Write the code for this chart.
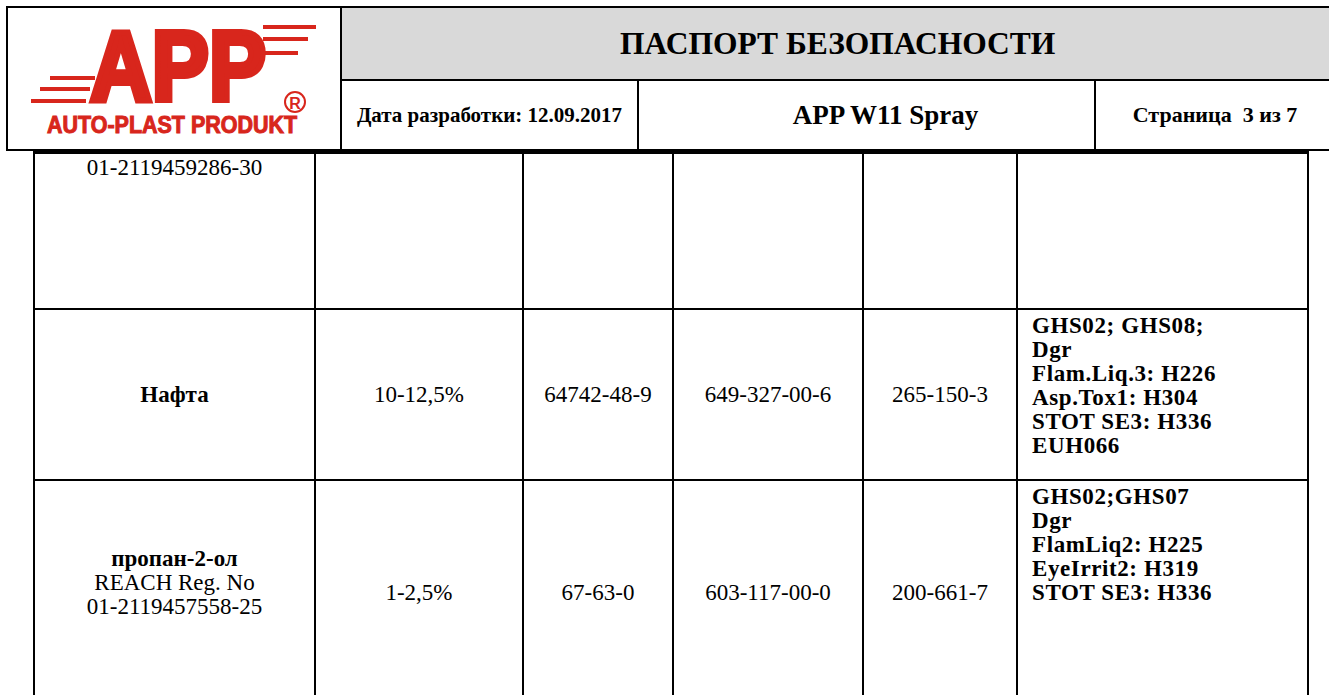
<!DOCTYPE html>
<html lang="ru">
<head>
<meta charset="utf-8">
<script src="https://cdn.jsdelivr.net/npm/chart.js@4.4.1/dist/chart.umd.min.js"></script>
<style>
  html, body { margin:0; padding:0; background:#fff; width:1329px; height:695px; overflow:hidden; }
  body { position:relative; font-family:"Liberation Serif","Times New Roman",serif; color:#000; }
  #hdr { position:absolute; left:6px; top:6px; width:1400px; height:145px; border:2px solid #000; border-right:none; box-sizing:border-box; }
  .hc { position:absolute; box-sizing:border-box; display:flex; align-items:center; justify-content:center; font-weight:bold; white-space:nowrap; }
  #logoCell { left:0; top:0; width:334px; height:141px; border-right:2px solid #000; }
  #titleCell { left:334px; top:0; right:0; height:73px; background:#d9d9d9; border-bottom:2px solid #000; font-size:31.5px; justify-content:flex-start; padding-left:278px; }
  #dateCell { left:334px; top:73px; width:297px; height:68px; border-right:2px solid #000; font-size:21px; }
  #prodCell { left:631px; top:73px; width:457px; height:68px; border-right:2px solid #000; font-size:27px; padding-left:38px; }
  #pageCell { left:1088px; top:73px; width:228px; height:68px; font-size:22px; padding-left:10px; }
  #grid { position:absolute; left:33px; top:150px; background:#000; padding:4px 2px 0 2px; display:grid; gap:2px;
          grid-template-columns:279px 206px 148px 188px 152px 289px; grid-template-rows:154px 169px 224px; }
  .c { background:#fff; font-size:23px; line-height:24px; display:flex; flex-direction:column; align-items:center; justify-content:center; text-align:center; white-space:nowrap; box-sizing:border-box; }
  .c.top { justify-content:flex-start; padding-top:2px; }
  .c.cls { align-items:flex-start; justify-content:flex-start; padding:4px 0 0 14px; font-weight:bold; text-align:left; font-size:23px; letter-spacing:0.6px; }
  .c.shift { padding-bottom:20px; }
</style>
</head>
<body>
<div id="hdr">
  <div class="hc" id="logoCell">
    <svg width="334" height="141" viewBox="7 7 334 141" xmlns="http://www.w3.org/2000/svg" style="position:absolute;left:0;top:0">
      <g fill="#d8261c">
        <rect x="49" y="75" width="45" height="4"/>
        <rect x="39" y="86" width="50" height="4"/>
        <rect x="30" y="98" width="55" height="4"/>
        <rect x="262" y="24" width="53" height="4"/>
        <rect x="262" y="36" width="45" height="4"/>
        <rect x="262" y="50" width="35" height="4"/>
        <text x="89" y="99" font-family="Liberation Sans, Arial, sans-serif" font-weight="bold" font-size="98" textLength="176" lengthAdjust="spacingAndGlyphs" stroke="#d8261c" stroke-width="6" stroke-linejoin="miter">APP</text>
        <text x="46" y="132" font-family="Liberation Sans, Arial, sans-serif" font-weight="bold" font-size="23" textLength="250" lengthAdjust="spacingAndGlyphs" stroke="#d8261c" stroke-width="1">AUTO-PLAST PRODUKT</text>
        <text x="294" y="107.5" text-anchor="middle" font-family="Liberation Sans, Arial, sans-serif" font-size="16">R</text>
      </g>
      <circle cx="294" cy="101" r="10" fill="none" stroke="#d8261c" stroke-width="2"/>
    </svg>
  </div>
  <div class="hc" id="titleCell"></div>
  <div class="hc" id="dateCell"></div>
  <div class="hc" id="prodCell"></div>
  <div class="hc" id="pageCell"></div>
</div>
<div id="grid"></div>
<script>
// ---- document header texts ----
const docTitle = "ПАСПОРТ БЕЗОПАСНОСТИ";
const docDate = "Дата разработки: 12.09.2017";
const productName = "APP W11 Spray";
const pageLabel = "Страница  3 из 7";

// ---- table rows (continuation row, Нафта, пропан-2-ол) ----
const substances = ["", "Нафта", "пропан-2-ол"];
const regNumbers = [["01-2119459286-30"], [], ["REACH Reg. No", "01-2119457558-25"]];
const concentrations = ["", "10-12,5%", "1-2,5%"];
const casNumbers = ["", "64742-48-9", "67-63-0"];
const indexNumbers = ["", "649-327-00-6", "603-117-00-0"];
const ecNumbers = ["", "265-150-3", "200-661-7"];
const classifications = [
  [],
  ["GHS02; GHS08;", "Dgr", "Flam.Liq.3: H226", "Asp.Tox1: H304", "STOT SE3: H336", "EUH066"],
  ["GHS02;GHS07", "Dgr", "FlamLiq2: H225", "EyeIrrit2: H319", "STOT SE3: H336"]
];

document.getElementById("titleCell").textContent = docTitle;
document.getElementById("dateCell").textContent = docDate;
document.getElementById("prodCell").textContent = productName;
document.getElementById("pageCell").textContent = pageLabel.replace(/ /g, "\u00a0");

const grid = document.getElementById("grid");
function cell(cls, lines, boldFirst) {
  const d = document.createElement("div");
  d.className = "c " + cls;
  lines.forEach((t, i) => {
    const s = document.createElement("div");
    s.textContent = t;
    if (boldFirst && i === 0) s.style.fontWeight = "bold";
    d.appendChild(s);
  });
  grid.appendChild(d);
}
substances.forEach((name, r) => {
  const nameLines = (name ? [name] : []).concat(regNumbers[r]);
  const rowTop = r === 0;
  cell(rowTop ? "top" : (regNumbers[r].length ? "shift" : ""), nameLines, !!name);
  cell("", concentrations[r] ? [concentrations[r]] : [], false);
  cell("", casNumbers[r] ? [casNumbers[r]] : [], false);
  cell("", indexNumbers[r] ? [indexNumbers[r]] : [], false);
  cell("", ecNumbers[r] ? [ecNumbers[r]] : [], false);
  cell("cls", classifications[r], false);
});
</script>
</body>
</html>
